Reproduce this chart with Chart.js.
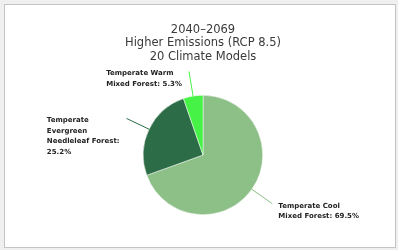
<!DOCTYPE html>
<html>
<head>
<meta charset="utf-8">
<script src="https://cdn.jsdelivr.net/npm/chart.js@4"></script>
<style>
  html, body { margin: 0; padding: 0; background: #fff; }
  canvas { display: block; }
</style>
</head>
<body>
<canvas id="forestChart" width="398" height="250"></canvas>
<script>
// Data
const titleLines = ['2040\u20132069', 'Higher Emissions (RCP 8.5)', '20 Climate Models'];
const categories = ['Temperate Cool Mixed Forest', 'Temperate Evergreen Needleleaf Forest', 'Temperate Warm Mixed Forest'];
const shares = [69.5, 25.2, 5.3];
const labelLines = [
  ['Temperate Cool', 'Mixed Forest: 69.5%'],
  ['Temperate', 'Evergreen', 'Needleleaf Forest:', '25.2%'],
  ['Temperate Warm', 'Mixed Forest: 5.3%']
];
const sliceColors = ['#8cc087', '#2c6d47', '#46f246'];

// Frame + title
const framePlugin = {
  id: 'frame',
  beforeDraw(chart) {
    const c = chart.ctx;
    c.save();
    c.fillStyle = '#efefef';
    c.fillRect(0, 0, chart.width, chart.height);
    c.fillStyle = '#ffffff';
    c.fillRect(4, 4, 392, 244);
    c.strokeStyle = '#c4c4c4';
    c.lineWidth = 1;
    c.strokeRect(4.5, 4.5, 391, 243);
    c.restore();
  },
  afterDraw(chart) {
    const c = chart.ctx;
    c.save();
    c.fillStyle = '#3a3a3a';
    c.textAlign = 'center';
    c.textBaseline = 'middle';
    c.font = '11.5px "DejaVu Sans"';
    titleLines.forEach((t, i) => c.fillText(t, 203, 30 + i * 13.5));
    c.restore();
  }
};

// Outside labels with leader lines
const labelPlugin = {
  id: 'outLabels',
  afterDatasetsDraw(chart) {
    const c = chart.ctx;
    const meta = chart.getDatasetMeta(0);
    c.save();
    c.font = 'bold 7px "DejaVu Sans"';
    c.textBaseline = 'middle';
    c.textAlign = 'left';
    meta.data.forEach((arc, i) => {
      const p = arc.getProps(['x', 'y', 'startAngle', 'endAngle', 'outerRadius'], true);
      const mid = (p.startAngle + p.endAngle) / 2;
      const x1 = p.x + Math.cos(mid) * p.outerRadius;
      const y1 = p.y + Math.sin(mid) * p.outerRadius;
      const x2 = p.x + Math.cos(mid) * (p.outerRadius + 25);
      const y2 = p.y + Math.sin(mid) * (p.outerRadius + 25);
      c.strokeStyle = sliceColors[i];
      c.lineWidth = 1;
      c.beginPath();
      c.moveTo(x1, y1);
      c.lineTo(x2, y2);
      c.stroke();
      const lines = labelLines[i];
      const w = Math.max(...lines.map(l => c.measureText(l).width));
      const left = Math.cos(mid) < 0 ? x2 - 7 - w : x2 + 6;
      c.fillStyle = '#222';
      lines.forEach((l, j) => c.fillText(l, left, y2 + 2 + j * 10.5));
    });
    c.restore();
  }
};

new Chart(document.getElementById('forestChart'), {
  type: 'pie',
  data: {
    labels: categories,
    datasets: [{
      data: shares,
      backgroundColor: sliceColors,
      borderColor: '#ffffff',
      borderWidth: 0.5
    }]
  },
  options: {
    responsive: false,
    animation: false,
    layout: { padding: { top: 95, bottom: 35, left: 143, right: 135 } },
    plugins: {
      legend: { display: false },
      tooltip: { enabled: false }
    }
  },
  plugins: [framePlugin, labelPlugin]
});
</script>
</body>
</html>
